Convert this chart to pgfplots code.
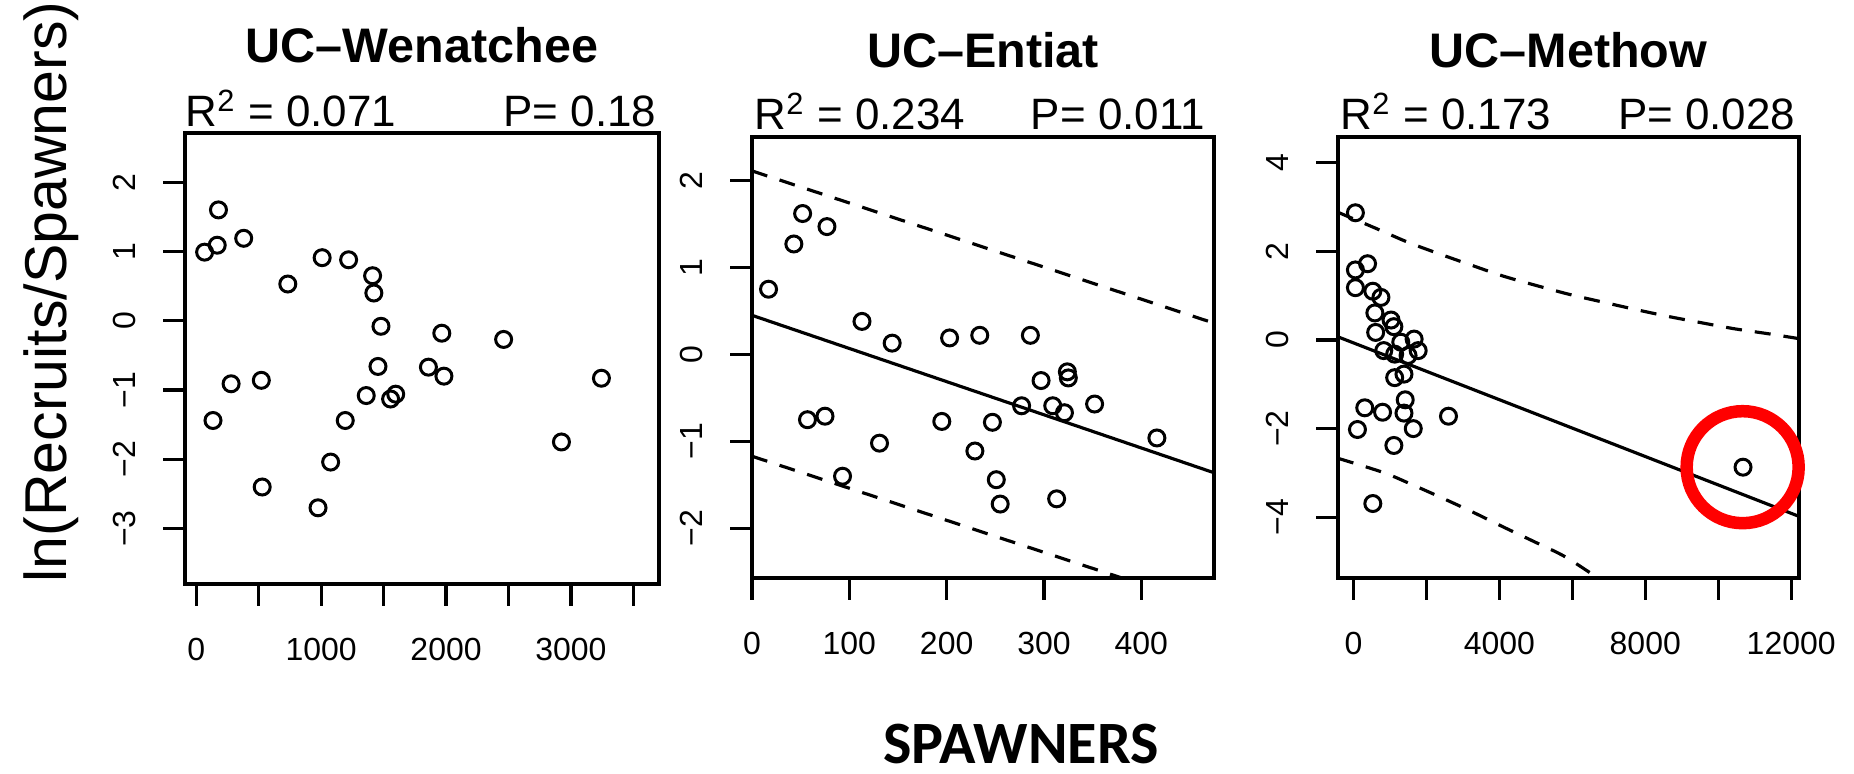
\documentclass[border=0pt]{standalone}
\usepackage{pgfplots}
\pgfplotsset{compat=1.18}
\usepackage{fontspec}
\setmainfont{Liberation Sans}
\newfontfamily\calibri{Carlito}

\newcommand{\tickfont}{\fontsize{9.1pt}{10pt}\selectfont}
\newcommand{\titlefont}{\fontsize{13.8pt}{16pt}\selectfont\bfseries}
\newcommand{\rfont}{\fontsize{12.5pt}{14pt}\selectfont}

\pgfplotsset{
  rplot/.style={
    scale only axis,
    anchor=south west,
    axis line style={line width=1pt},
    tick style={line width=0.9pt, black},
    major tick length=2.2mm,
    tick align=outside,
    xtick pos=left, ytick pos=left,
    tick label style={font=\tickfont},
    xticklabel style={anchor=north, inner sep=0pt},
    yticklabel style={rotate=90, anchor=south, inner sep=0pt},
    xticklabel shift=3.1mm,
    yticklabel shift=2.65mm,
    scaled ticks=false,
  },
  pts/.style={only marks, mark=o, mark size=0.8mm, black,
    mark options={line width=0.85pt}},
  fit/.style={black, line width=0.9pt, no marks},
  band/.style={black, line width=0.9pt, no marks, dash pattern=on 1.6mm off 1.3mm},
}

\begin{document}
\begin{tikzpicture}
\path[use as bounding box] (0,0) rectangle (185.4mm,77.4mm);

% UC-Wenatchee
\begin{axis}[rplot, name=p1, at={(18.5mm,19.0mm)}, width=47.4mm, height=45.1mm,
  xmin=-90, xmax=3705, ymin=-3.80, ymax=2.71,
  xtick={0,500,...,3500}, xticklabels={0,,1000,,2000,,3000,},
  ytick={-3,-2,-1,0,1,2}, yticklabels={−3,−2,−1,0,1,2}]
\addplot[pts] coordinates {
(178,1.60) (67,0.99) (168,1.09) (380,1.19) (733,0.53) (1008,0.91)
(1220,0.88) (1412,0.65) (1422,0.40) (1479,-0.08) (1966,-0.18) (2461,-0.27)
(1455,-0.66) (1859,-0.67) (1983,-0.80) (3244,-0.83) (279,-0.91) (521,-0.86)
(1361,-1.08) (1556,-1.13) (1597,-1.06) (134,-1.44) (1193,-1.44) (1076,-2.04)
(2924,-1.75) (528,-2.40) (975,-2.70)
};
\end{axis}

% UC-Entiat
\begin{axis}[rplot, name=p2, at={(75.2mm,19.6mm)}, width=46.2mm, height=44.1mm,
  xmin=0, xmax=474.7, ymin=-2.57, ymax=2.50,
  xtick={0,100,...,400}, xticklabels={0,100,200,300,400},
  ytick={-2,-1,0,1,2}, yticklabels={−2,−1,0,1,2}]
\addplot[pts] coordinates {
(17,0.75) (43,1.27) (52,1.62) (77,1.47) (113,0.38) (144,0.13) (203,0.19)
(234,0.22) (286,0.22) (297,-0.30) (324,-0.20) (325,-0.27) (57,-0.75)
(75,-0.71) (131,-1.02) (93,-1.40) (195,-0.77) (247,-0.78) (229,-1.11)
(277,-0.59) (309,-0.59) (321,-0.67) (352,-0.57) (416,-0.96) (251,-1.44)
(255,-1.72) (313,-1.66)
};
\addplot[fit] coordinates {(0,0.45) (474.7,-1.36)};
\addplot[band] coordinates {(0,2.11) (474.7,0.36)};
\addplot[band] coordinates {(0,-1.17) (380,-2.57)};
\end{axis}

% UC-Methow
\begin{axis}[rplot, name=p3, at={(133.8mm,19.6mm)}, width=46.1mm, height=44.1mm,
  clip=false,
  xmin=-422, xmax=12215, ymin=-5.37, ymax=4.58,
  xtick={0,2000,...,12000}, xticklabels={0,,4000,,8000,,12000},
  ytick={-4,-2,0,2,4}, yticklabels={−4,−2,0,2,4}]
\addplot[pts] coordinates {
(55,2.87) (55,1.58) (388,1.72) (55,1.18) (532,1.10) (754,0.96) (588,0.61)
(1031,0.45) (1109,0.30) (610,0.17) (1298,-0.05) (1664,0.02) (832,-0.24)
(1131,-0.32) (1497,-0.35) (1775,-0.24) (1131,-0.85) (1386,-0.77)
(1420,-1.35) (311,-1.53) (799,-1.63) (1386,-1.65) (111,-2.02) (1641,-2.00)
(2606,-1.72) (1109,-2.38) (532,-3.69) (10680,-2.87)
};
\addplot[fit] coordinates {(-422,0.07) (12215,-3.98)};
\addplot[band, smooth] coordinates {
(-422,2.88) (611,2.52) (1478,2.21) (2328,1.95) (3225,1.69) (4111,1.44)
(5007,1.23) (5912,1.03) (6808,0.86) (7721,0.69) (8635,0.53) (9531,0.39)
(10463,0.25) (11376,0.14) (12215,0.03)
};
\addplot[band, smooth] coordinates {
(-422,-2.67) (820,-2.99) (1599,-3.26) (2421,-3.56) (3288,-3.89)
(4111,-4.22) (4980,-4.56) (5802,-4.89) (6700,-5.37)
};
% highlighted outlier
\addplot[only marks, mark=o, mark size=5.6mm, red,
  mark options={line width=1.25mm}] coordinates {(10670,-2.87)};
\end{axis}

% titles and statistics
\node[font=\titlefont, anchor=base] at ([yshift=7.0mm]p1.north) {UC–Wenatchee};
\node[font=\titlefont, anchor=base] at ([yshift=6.9mm]p2.north) {UC–Entiat};
\node[font=\titlefont, anchor=base] at ([yshift=6.9mm]p3.north) {UC–Methow};

\node[font=\rfont, anchor=base west, inner sep=0pt] at ([yshift=0.65mm]p1.north west) {R\textsuperscript{2} = 0.071};
\node[font=\rfont, anchor=base east, inner sep=0pt] at ([xshift=-0.2mm, yshift=0.65mm]p1.north east) {P= 0.18};
\node[font=\rfont, anchor=base west, inner sep=0pt] at ([xshift=0.2mm, yshift=0.7mm]p2.north west) {R\textsuperscript{2} = 0.234};
\node[font=\rfont, anchor=base east, inner sep=0pt] at ([xshift=-0.85mm, yshift=0.7mm]p2.north east) {P= 0.011};
\node[font=\rfont, anchor=base west, inner sep=0pt] at ([xshift=0.2mm, yshift=0.7mm]p3.north west) {R\textsuperscript{2} = 0.173};
\node[font=\rfont, anchor=base east, inner sep=0pt] at ([xshift=-0.3mm, yshift=0.7mm]p3.north east) {P= 0.028};

% shared axis labels
\node[rotate=90, anchor=base, inner sep=0pt, font=\fontsize{16.8pt}{18pt}\selectfont] at (6.6mm,48.2mm) {ln(Recruits/Spawners)};
\node[anchor=base, inner sep=0pt, font=\calibri\bfseries\fontsize{17.1pt}{19pt}\selectfont] at (102.1mm,1.0mm) {SPAWNERS};
\end{tikzpicture}
\end{document}
